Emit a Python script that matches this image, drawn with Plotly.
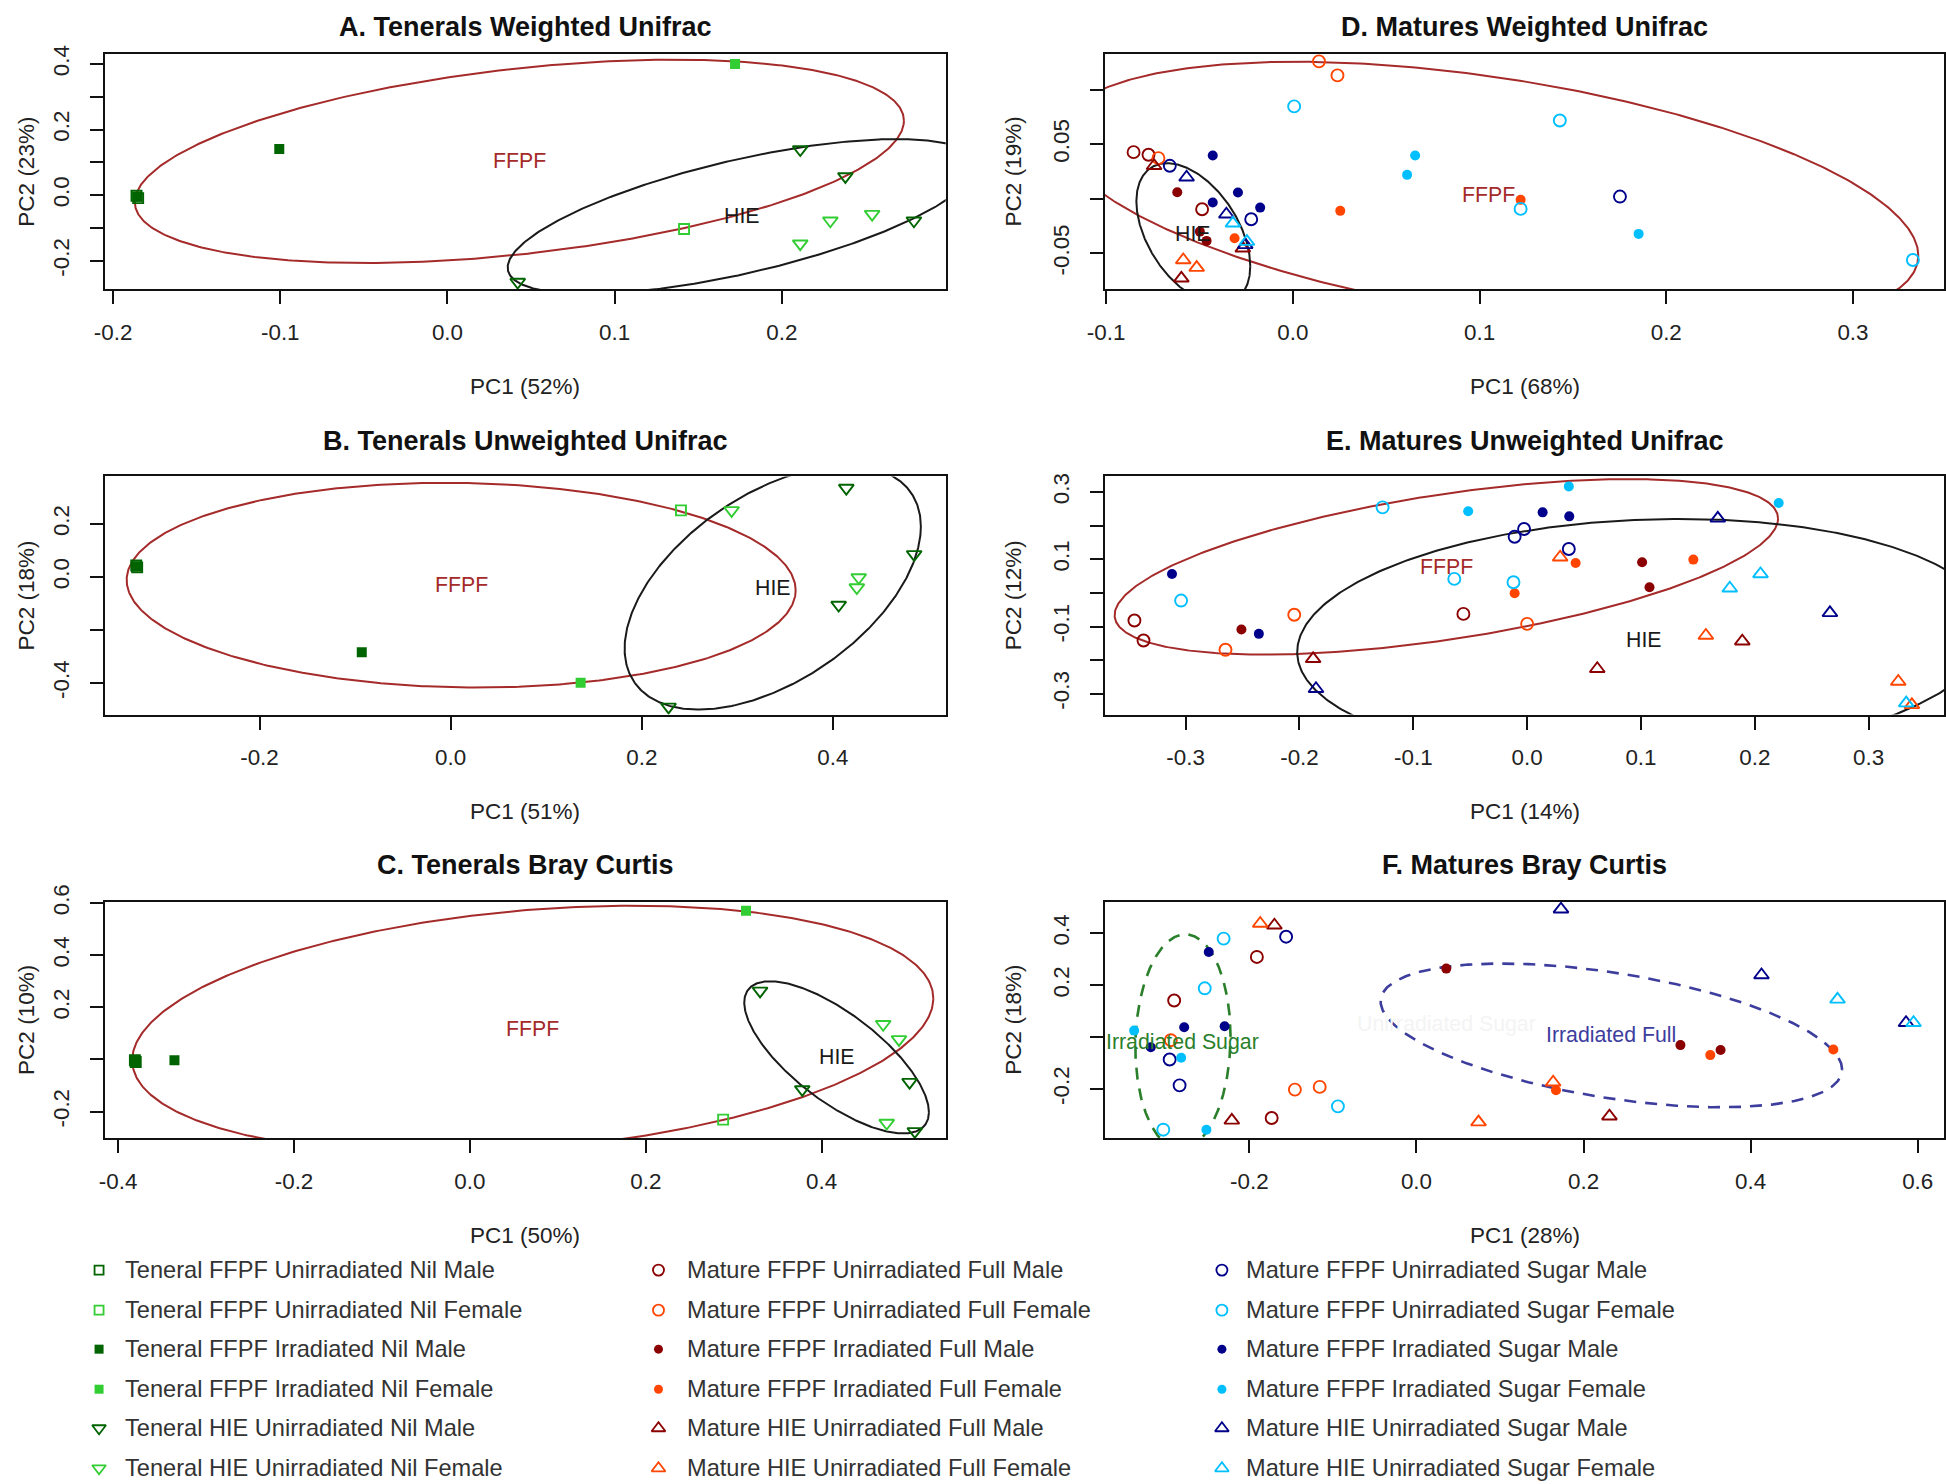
import numpy as np
import plotly.graph_objects as go

W, H = 1946, 1484

# ---------------- groups (legend) ----------------
GROUPS = [
    "Teneral FFPF Unirradiated Nil Male", "Teneral FFPF Unirradiated Nil Female",
    "Teneral FFPF Irradiated Nil Male", "Teneral FFPF Irradiated Nil Female",
    "Teneral HIE Unirradiated Nil Male", "Teneral HIE Unirradiated Nil Female",
    "Mature FFPF Unirradiated Full Male", "Mature FFPF Unirradiated Full Female",
    "Mature FFPF Irradiated Full Male", "Mature FFPF Irradiated Full Female",
    "Mature HIE Unirradiated Full Male", "Mature HIE Unirradiated Full Female",
    "Mature FFPF Unirradiated Sugar Male", "Mature FFPF Unirradiated Sugar Female",
    "Mature FFPF Irradiated Sugar Male", "Mature FFPF Irradiated Sugar Female",
    "Mature HIE Unirradiated Sugar Male", "Mature HIE Unirradiated Sugar Female",
]

# ---------------- panel data ----------------
A_PC1 = [-0.186, -0.185, -0.1855, -0.1006, 0.172, 0.1415, 0.211, 0.238, 0.279, 0.042, 0.229, 0.254, 0.211]
A_PC2 = [-0.002, -0.009, -0.005, 0.141, 0.400, -0.103, 0.139, 0.057, -0.078, -0.265, -0.078, -0.058, -0.148]
A_GRP = [0, 0, 2, 2, 3, 1, 4, 4, 4, 4, 5, 5, 5]

B_PC1 = [-0.329, -0.328, -0.3285, -0.093, 0.136, 0.241, 0.414, 0.485, 0.406, 0.228, 0.294, 0.427, 0.425]
B_PC2 = [0.043, 0.036, 0.039, -0.284, -0.399, 0.251, 0.335, 0.085, -0.106, -0.490, 0.251, -0.002, -0.040]
B_GRP = [0, 0, 2, 2, 3, 1, 4, 4, 4, 4, 5, 5, 5]

C_PC1 = [-0.381, -0.380, -0.3805, -0.336, 0.314, 0.288, 0.330, 0.500, 0.378, 0.506, 0.470, 0.488, 0.474]
C_PC2 = [-0.003, -0.010, -0.006, -0.003, 0.571, -0.231, 0.263, -0.087, -0.115, -0.276, 0.135, 0.077, -0.244]
C_GRP = [0, 0, 2, 2, 3, 1, 4, 4, 4, 4, 5, 5, 5]

D_PC1 = [-0.0853, -0.0773, -0.0486, -0.072, 0.014, 0.0239, -0.0619, -0.0498, -0.0462,
         -0.0312, 0.0254, 0.122, -0.0743, -0.0268, -0.0597, -0.0587, -0.0515,
         -0.0659, -0.0223, 0.1752, 0.0007, 0.143, 0.122, 0.3321,
         -0.0429, -0.0294, -0.0429, -0.0175, 0.0655, 0.0612, 0.1852,
         -0.0569, -0.0356, -0.0255, -0.0321, -0.0246]
D_PC2 = [0.0427, 0.0403, -0.0096, 0.0372, 0.1259, 0.113, 0.006, -0.0301, -0.0386,
         -0.0362, -0.0111, -0.001, 0.0302, -0.0454, -0.0729, -0.0561, -0.0631,
         0.0302, -0.0188, 0.002, 0.0846, 0.0717, -0.0093, -0.0561,
         0.0396, 0.0057, -0.0035, -0.0081, 0.0396, 0.0219, -0.0322,
         0.0197, -0.0142, -0.0423, -0.0225, -0.0393]
D_GRP = [6, 6, 6, 7, 7, 7, 8, 8, 8, 9, 9, 9, 10, 10, 10, 11, 11,
         12, 12, 12, 13, 13, 13, 13, 14, 14, 14, 14, 15, 15, 15, 16, 16, 16, 17, 17]

E_PC1 = [-0.345, -0.337, -0.056, -0.2046, -0.265, 0.0, -0.251, 0.101, 0.1075,
         0.0426, 0.146, -0.011, -0.188, 0.0616, 0.189, 0.029, 0.157, 0.326, 0.338,
         -0.011, -0.0027, 0.0366, -0.127, -0.304, -0.064, -0.012,
         -0.312, -0.2357, 0.0136, 0.037, 0.0366, -0.0518, 0.221,
         0.1675, -0.1855, 0.266, 0.205, 0.178, 0.333]
E_PC2 = [-0.082, -0.1416, -0.0624, -0.065, -0.169, -0.092, -0.109, 0.091, 0.0168,
         0.0891, 0.099, -0.001, -0.196, -0.2257, -0.1436, 0.106, -0.1267, -0.2634, -0.333,
         0.167, 0.19, 0.1307, 0.2545, -0.0228, 0.0416, 0.0317,
         0.0564, -0.1218, 0.2396, 0.2277, 0.3168, 0.2426, 0.2673,
         0.2218, -0.285, -0.0594, 0.0564, 0.0139, -0.3277]
E_GRP = [6, 6, 6, 7, 7, 7, 8, 8, 8, 9, 9, 9, 10, 10, 10, 11, 11, 11, 11,
         12, 12, 12, 13, 13, 13, 13, 14, 14, 14, 14, 15, 15, 15, 16, 16, 16, 17, 17, 17]

F_PC1 = [-0.191, -0.290, -0.1733, -0.294, -0.1455, -0.1158, 0.0357, 0.316, 0.364,
         0.3517, 0.499, 0.167, -0.170, -0.221, 0.231, -0.187, 0.1636, 0.0743,
         -0.156, -0.2954, -0.2835, -0.2308, -0.2534, -0.094, -0.303,
         -0.2486, -0.278, -0.2296, -0.318, -0.3379, -0.2816, -0.2514,
         0.173, 0.413, 0.586, 0.504, 0.595]
F_PC2 = [0.309, 0.141, -0.312, -0.012, -0.2024, -0.192, 0.264, -0.031, -0.050,
         -0.0695, -0.0476, -0.205, 0.431, -0.321, -0.305, 0.438, -0.174, -0.328,
         0.387, -0.0865, -0.186, 0.3797, 0.188, -0.267, -0.357,
         0.328, 0.038, 0.042, -0.039, 0.025, -0.080, -0.357,
         0.493, 0.2395, 0.0554, 0.1455, 0.0554]
F_GRP = [6, 6, 6, 7, 7, 7, 8, 8, 8, 9, 9, 9, 10, 10, 10, 11, 11, 11,
         12, 12, 12, 13, 13, 13, 13, 14, 14, 14, 14, 15, 15, 15, 16, 16, 16, 17, 17]

# ---------------- titles & axes ----------------
TITLES = ["A. Tenerals Weighted Unifrac", "B. Tenerals Unweighted Unifrac", "C. Tenerals Bray Curtis",
          "D. Matures Weighted Unifrac", "E. Matures Unweighted Unifrac", "F. Matures Bray Curtis"]
X_TITLES = ["PC1 (52%)", "PC1 (51%)", "PC1 (50%)", "PC1 (68%)", "PC1 (14%)", "PC1 (28%)"]
Y_TITLES = ["PC2 (23%)", "PC2 (18%)", "PC2 (10%)", "PC2 (19%)", "PC2 (12%)", "PC2 (18%)"]

X_RANGES = [[-0.2048, 0.298], [-0.3616, 0.518], [-0.4149, 0.5411],
            [-0.1007, 0.349], [-0.371, 0.3666], [-0.373, 0.632]]
Y_RANGES = [[-0.2869, 0.4303], [-0.519, 0.379], [-0.3013, 0.605],
            [-0.0829, 0.1326], [-0.362, 0.3465], [-0.389, 0.5216]]

A_XTICKS = [-0.2, -0.1, 0.0, 0.1, 0.2]
A_XLABELS = ["-0.2", "-0.1", "0.0", "0.1", "0.2"]
A_YTICKS = [-0.2, -0.1, 0.0, 0.1, 0.2, 0.3, 0.4]
A_YLABELS = ["-0.2", "", "0.0", "", "0.2", "", "0.4"]
B_XTICKS = [-0.2, 0.0, 0.2, 0.4]
B_XLABELS = ["-0.2", "0.0", "0.2", "0.4"]
B_YTICKS = [-0.4, -0.2, 0.0, 0.2]
B_YLABELS = ["-0.4", "", "0.0", "0.2"]
C_XTICKS = [-0.4, -0.2, 0.0, 0.2, 0.4]
C_XLABELS = ["-0.4", "-0.2", "0.0", "0.2", "0.4"]
C_YTICKS = [-0.2, 0.0, 0.2, 0.4, 0.6]
C_YLABELS = ["-0.2", "", "0.2", "0.4", "0.6"]
D_XTICKS = [-0.1, 0.0, 0.1, 0.2, 0.3]
D_XLABELS = ["-0.1", "0.0", "0.1", "0.2", "0.3"]
D_YTICKS = [-0.05, 0.0, 0.05, 0.10]
D_YLABELS = ["-0.05", "", "0.05", ""]
E_XTICKS = [-0.3, -0.2, -0.1, 0.0, 0.1, 0.2, 0.3]
E_XLABELS = ["-0.3", "-0.2", "-0.1", "0.0", "0.1", "0.2", "0.3"]
E_YTICKS = [-0.3, -0.2, -0.1, 0.0, 0.1, 0.2, 0.3]
E_YLABELS = ["-0.3", "", "-0.1", "", "0.1", "", "0.3"]
F_XTICKS = [-0.2, 0.0, 0.2, 0.4, 0.6]
F_XLABELS = ["-0.2", "0.0", "0.2", "0.4", "0.6"]
F_YTICKS = [-0.2, 0.0, 0.2, 0.4]
F_YLABELS = ["-0.2", "", "0.2", "0.4"]

# ---------------- ellipses (center, half-width, half-height, correlation) ----------------
ELL_PANEL = [0, 0, 1, 1, 2, 2, 3, 3, 4, 4, 5, 5]
ELL_LABEL = ["FFPF", "HIE", "FFPF", "HIE", "FFPF", "HIE", "FFPF", "HIE", "FFPF", "HIE",
             "Irradiated Sugar", "Irradiated Full"]
ELL_CX = [0.043, 0.176, 0.011, 0.337, 0.0715, 0.417, 0.105, -0.0533, -0.071, 0.103, -0.2795, 0.2333]
ELL_CY = [0.103, -0.065, -0.031, -0.040, 0.1155, 0.008, 0.003, -0.032, 0.0775, -0.140, -0.018, 0.0065]
ELL_W = [0.23, 0.14, 0.35, 0.155, 0.4555, 0.105, 0.23, 0.0305, 0.2914, 0.305, 0.057, 0.2762]
ELL_H = [0.31, 0.236, 0.386, 0.46, 0.4745, 0.292, 0.1225, 0.0646, 0.261, 0.36, 0.414, 0.2771]
ELL_RHO = [0.40, 0.66, -0.05, 0.50, 0.25, -0.72, -0.45, -0.46, 0.55, 0.10, 0.05, -0.474]

GHOST_TEXT = "Unirradiated Sugar"
GHOST_XY = [0.0357, 0.049]

# ---------------- styles ----------------
DG, LG, DR, OR, NV, SK = "#006400", "#32CD32", "#8B0000", "#FF4500", "#00008B", "#00BFFF"
G_COLOR = [DG, LG, DG, LG, DG, LG, DR, OR, DR, OR, DR, OR, NV, SK, NV, SK, NV, SK]
G_SYMBOL = ["square-open", "square-open", "square", "square", "triangle-down-open", "triangle-down-open",
            "circle-open", "circle-open", "circle", "circle", "triangle-up-open", "triangle-up-open",
            "circle-open", "circle-open", "circle", "circle", "triangle-up-open", "triangle-up-open"]
SYM_SIZE = {"square-open": 10, "square": 10, "triangle-down-open": 13, "circle-open": 12,
            "circle": 10, "triangle-up-open": 13}
ELL_STYLE = {"FFPF": ("#A52A2A", "solid", 2.0), "HIE": ("#1a1a1a", "solid", 2.0),
             "Irradiated Sugar": ("#2A7F2A", "12px,9px", 2.6), "Irradiated Full": ("#3D3D9E", "12px,9px", 2.6)}

FONT = "Arial, Liberation Sans, sans-serif"
# target positions (pixels in the final picture)
COL_X = [(102, 942), (1101, 1940)]
ROW_Y = [(51, 286), (473, 711), (898, 1134)]
PANEL_POS = [(0, 0), (0, 1), (0, 2), (1, 0), (1, 1), (1, 2)]
TITLE_Y = [24, 438, 861]
XTITLE_DY = 97
YTITLE_X = [24, 1010]

# the photographed page is offset by ~15 px and shrunk by ~1 %: map target pixels to paper pixels
OFF, SX, SY = 15.0, 0.990, 0.987


def px_x(v):
    return max(0.0, (v - OFF) / SX) / W


def px_y(v):
    return 1 - max(0.0, (v - OFF) / SY) / H


DATA = [(A_PC1, A_PC2, A_GRP), (B_PC1, B_PC2, B_GRP), (C_PC1, C_PC2, C_GRP),
        (D_PC1, D_PC2, D_GRP), (E_PC1, E_PC2, E_GRP), (F_PC1, F_PC2, F_GRP)]
TICKS = [(A_XTICKS, A_XLABELS, A_YTICKS, A_YLABELS), (B_XTICKS, B_XLABELS, B_YTICKS, B_YLABELS),
         (C_XTICKS, C_XLABELS, C_YTICKS, C_YLABELS), (D_XTICKS, D_XLABELS, D_YTICKS, D_YLABELS),
         (E_XTICKS, E_XLABELS, E_YTICKS, E_YLABELS), (F_XTICKS, F_XLABELS, F_YTICKS, F_YLABELS)]

fig = go.Figure()
annotations = []
layout = {}

for p in range(6):
    ax = "" if p == 0 else str(p + 1)
    xref, yref = "x" + ax, "y" + ax
    col, row = PANEL_POS[p]
    x0, x1 = COL_X[col]
    y0, y1 = ROW_Y[row]
    xt, xl, yt, yl = TICKS[p]
    layout["xaxis" + ax] = dict(
        domain=[px_x(x0), px_x(x1)], range=X_RANGES[p], anchor=yref,
        tickmode="array", tickvals=xt, ticktext=xl, ticks="outside", ticklen=13, tickwidth=1.5,
        tickcolor="#111", showline=True, linecolor="#111", linewidth=1.9, mirror=True,
        showgrid=False, zeroline=False, tickfont=dict(family=FONT, size=22.4, color="#222"),
        ticklabelstandoff=9,
    )
    layout["yaxis" + ax] = dict(
        domain=[px_y(y1), px_y(y0)], range=Y_RANGES[p], anchor=xref,
        tickmode="array", tickvals=yt, ticktext=yl, ticks="outside", ticklen=13, tickwidth=1.5,
        tickcolor="#111", showline=True, linecolor="#111", linewidth=1.9, mirror=True,
        showgrid=False, zeroline=False, tickangle=-90,
        tickfont=dict(family=FONT, size=22.4, color="#222"), ticklabelstandoff=12,
    )
    # ellipses
    t = np.linspace(0, 2 * np.pi, 500)
    for e in range(len(ELL_PANEL)):
        if ELL_PANEL[e] != p:
            continue
        cx, cy, w, h, r = ELL_CX[e], ELL_CY[e], ELL_W[e], ELL_H[e], ELL_RHO[e]
        ex = cx + w * np.cos(t)
        ey = cy + h * (r * np.cos(t) + np.sqrt(1 - r * r) * np.sin(t))
        color, dash, lw = ELL_STYLE[ELL_LABEL[e]]
        fig.add_trace(go.Scatter(x=ex, y=ey, mode="lines", xaxis=xref, yaxis=yref,
                                 line=dict(color=color, width=lw, dash=dash),
                                 showlegend=False, hoverinfo="skip"))
        annotations.append(dict(x=cx, y=cy, xref=xref, yref=yref, text=ELL_LABEL[e],
                                showarrow=False, xanchor="center", yanchor="middle",
                                font=dict(family=FONT, size=21.3, color=color)))
    if p == 5:
        annotations.append(dict(x=GHOST_XY[0], y=GHOST_XY[1], xref=xref, yref=yref, text=GHOST_TEXT,
                                showarrow=False, xanchor="center", yanchor="middle",
                                font=dict(family=FONT, size=21.3, color="#f4f4f4")))
    # points
    xs, ys, gs = DATA[p]
    xs, ys, gs = np.array(xs), np.array(ys), np.array(gs)
    for g in range(len(GROUPS)):
        m = gs == g
        if not m.any():
            continue
        sym = G_SYMBOL[g]
        fig.add_trace(go.Scatter(
            x=xs[m], y=ys[m], mode="markers", xaxis=xref, yaxis=yref, name=GROUPS[g],
            marker=dict(symbol=sym, size=SYM_SIZE[sym], color=G_COLOR[g],
                        line=dict(width=1.9 if sym.endswith("open") else 0, color=G_COLOR[g])),
            showlegend=False))
    # titles
    cxp = (x0 + x1) / 2
    annotations.append(dict(x=px_x(cxp), y=px_y(TITLE_Y[row]), xref="paper", yref="paper",
                            text="<b>" + TITLES[p] + "</b>", showarrow=False,
                            font=dict(family=FONT, size=27, color="#111"),
                            xanchor="center", yanchor="middle"))
    annotations.append(dict(x=px_x(cxp), y=px_y(y1 + XTITLE_DY), xref="paper", yref="paper",
                            text=X_TITLES[p], showarrow=False,
                            font=dict(family=FONT, size=22.5, color="#222"),
                            xanchor="center", yanchor="middle"))
    annotations.append(dict(x=px_x(YTITLE_X[col]), y=px_y((y0 + y1) / 2), xref="paper", yref="paper",
                            text=Y_TITLES[p], showarrow=False, textangle=-90,
                            font=dict(family=FONT, size=22.5, color="#222"),
                            xanchor="center", yanchor="middle"))

# ---------------- legend drawn in its own axis ----------------
LEG_MARK_X = [96, 655, 1218]
LEG_TEXT_X = [120, 681, 1240]
LEG_ROW_Y = [1266, 1306, 1345, 1385, 1424, 1464]
layout["xaxis7"] = dict(domain=[0, 1], range=[0, 1], visible=False, anchor="y7", fixedrange=True)
layout["yaxis7"] = dict(domain=[0, 1], range=[0, 1], visible=False, anchor="x7", fixedrange=True)
for g in range(len(GROUPS)):
    c, r = g // 6, g % 6
    sym = G_SYMBOL[g]
    fig.add_trace(go.Scatter(
        x=[px_x(LEG_MARK_X[c])], y=[px_y(LEG_ROW_Y[r])], mode="markers", xaxis="x7", yaxis="y7",
        marker=dict(symbol=sym, size=SYM_SIZE[sym] - 1, color=G_COLOR[g],
                    line=dict(width=1.8 if sym.endswith("open") else 0, color=G_COLOR[g])),
        showlegend=False, hoverinfo="skip"))
    annotations.append(dict(x=px_x(LEG_TEXT_X[c]), y=px_y(LEG_ROW_Y[r]), xref="x7", yref="y7",
                            text=GROUPS[g], showarrow=False, xanchor="left", yanchor="middle",
                            font=dict(family=FONT, size=23.6, color="#333")))

fig.update_layout(
    width=W, height=H, margin=dict(l=0, r=0, t=0, b=0, pad=0), autosize=False,
    paper_bgcolor="white", plot_bgcolor="rgba(0,0,0,0)",
    showlegend=False, annotations=annotations, **layout,
)

fig.write_html("out.html", config={"displayModeBar": False},
               post_script="document.body.style.margin='0';document.body.style.overflow='hidden';")
